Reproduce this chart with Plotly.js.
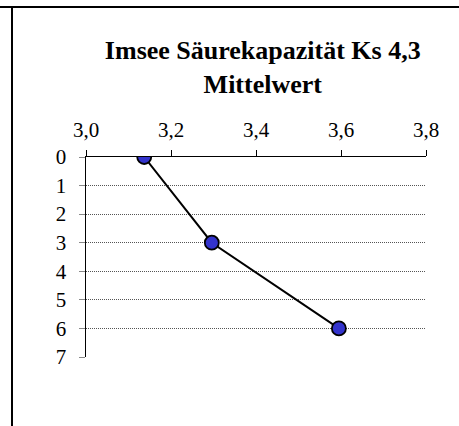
<!DOCTYPE html>
<html>
<head>
<meta charset="utf-8">
<script src="https://cdn.plot.ly/plotly-3.0.1.min.js"></script>
<style>
html,body{margin:0;padding:0;background:#fff;}
#wrap{position:relative;width:459px;height:426px;overflow:hidden;}
#chart{position:absolute;left:0;top:0;width:459px;height:426px;}
#topline{position:absolute;left:0;top:6px;width:459px;height:2px;background:#000;}
#leftline{position:absolute;left:11px;top:7px;width:2px;height:419px;background:#000;}
</style>
</head>
<body>
<div id="wrap">
<div id="chart"></div>
<div id="topline"></div>
<div id="leftline"></div>
</div>
<script>
const depths = [0, 3, 6];
const values = [3.137, 3.296, 3.595];
const xTickVals = [3.0, 3.2, 3.4, 3.6, 3.8];
const xTickText = ['3,0', '3,2', '3,4', '3,6', '3,8'];
const yTickVals = [0, 1, 2, 3, 4, 5, 6, 7];
const chartTitle = '<b>Imsee Säurekapazität Ks 4,3<br>Mittelwert</b>';

const SERIF = "Liberation Serif";

const trace = {
  x: values,
  y: depths,
  type: 'scatter',
  mode: 'lines+markers',
  line: {color: '#000', width: 2},
  marker: {size: 14, color: '#3333CC', line: {color: '#000', width: 1.8}},
  hoverinfo: 'skip'
};

const layout = {
  width: 459, height: 426,
  margin: {l: 86, r: 33, t: 157, b: 69, pad: 0},
  paper_bgcolor: '#fff', plot_bgcolor: '#fff',
  showlegend: false,
  font: {family: SERIF, color: '#000', size: 16},
  title: {
    text: chartTitle,
    font: {family: SERIF, size: 26, color: '#000'},
    x: 0.52, xanchor: 'center', xref: 'paper',
    y: 0.862, yanchor: 'middle', yref: 'container'
  },
  xaxis: {
    side: 'top',
    range: [3.0, 3.8],
    tickvals: xTickVals, ticktext: xTickText,
    showgrid: false, zeroline: false,
    showline: true, linecolor: '#000', linewidth: 1.5,
    ticks: 'outside', ticklen: 6, tickcolor: '#000', tickwidth: 1,
    tickfont: {family: SERIF, size: 21, color: '#000'},
    ticklabelstandoff: 4,
    fixedrange: true
  },
  yaxis: {
    range: [7, 0],
    tickvals: yTickVals,
    showgrid: true, gridcolor: '#555', griddash: '1px,1px', gridwidth: 1,
    zeroline: false,
    showline: true, linecolor: '#000', linewidth: 1.5,
    ticks: 'outside', ticklen: 6, tickcolor: '#888', tickwidth: 1,
    tickfont: {family: SERIF, size: 21, color: '#000'},
    ticklabelstandoff: 8,
    fixedrange: true
  }
};

Plotly.newPlot('chart', [trace], layout, {displayModeBar: false, staticPlot: true});
</script>
</body>
</html>
